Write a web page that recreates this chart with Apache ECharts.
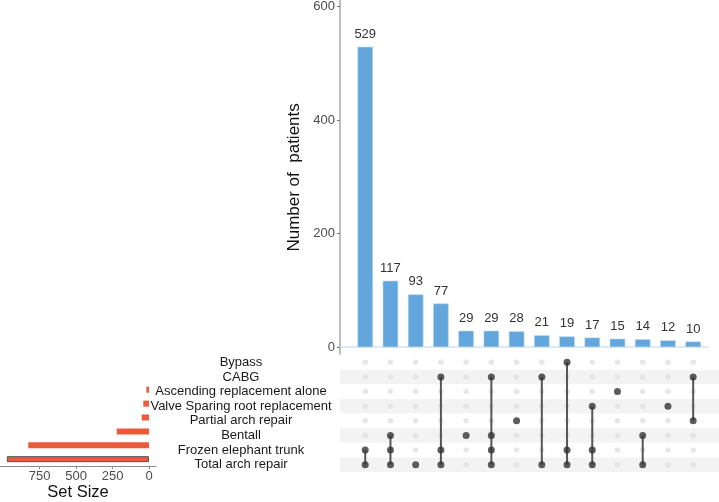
<!DOCTYPE html>
<html><head><meta charset="utf-8">
<script src="https://cdn.jsdelivr.net/npm/echarts@6/dist/echarts.min.js"></script>
<style>html,body{margin:0;padding:0;background:#fff}#c{width:719px;height:502px}</style>
</head><body><div id="c"></div>
<script>
const setNames = ['Bypass','CABG','Ascending replacement alone','Valve Sparing root replacement','Partial arch repair','Bentall','Frozen elephant trunk','Total arch repair'];
const setSizes = [0,0,18,39,50,221,828,975];
const highlightedSet = 'Total arch repair';
const intersectionCounts = [529,117,93,77,29,29,28,21,19,17,15,14,12,10];
const intersectionSets = [
 ['Frozen elephant trunk','Total arch repair'],
 ['Bentall','Frozen elephant trunk','Total arch repair'],
 ['Total arch repair'],
 ['CABG','Frozen elephant trunk','Total arch repair'],
 ['Bentall'],
 ['CABG','Bentall','Frozen elephant trunk','Total arch repair'],
 ['Partial arch repair'],
 ['CABG','Total arch repair'],
 ['Bypass','Frozen elephant trunk','Total arch repair'],
 ['Valve Sparing root replacement','Frozen elephant trunk','Total arch repair'],
 ['Ascending replacement alone'],
 ['Bentall','Total arch repair'],
 ['Valve Sparing root replacement'],
 ['CABG','Partial arch repair']
];
const countTicks = [0,200,400,600];
const sizeTicks = [0,250,500,750];

const FONT = 'Liberation Sans, Arial, sans-serif';
const chart = echarts.init(document.getElementById('c'), null, {renderer:'canvas'});

const barData = intersectionCounts.map((v,i)=>[i+1, v]);
const greyDots = [], darkDots = [];
intersectionSets.forEach((sets,i)=>{
  setNames.forEach(n=>{
    if (sets.indexOf(n) >= 0) darkDots.push([i+1, n]); else greyDots.push([i+1, n]);
  });
});
const lineSeries = [];
intersectionSets.forEach((sets,i)=>{
  if (sets.length < 2) return;
  const idx = sets.map(s=>setNames.indexOf(s));
  const a = setNames[Math.min(...idx)], b = setNames[Math.max(...idx)];
  lineSeries.push({
    type:'line', xAxisIndex:1, yAxisIndex:1, data:[[i+1,a],[i+1,b]],
    symbol:'none', lineStyle:{color:'#555', width:2}, z:3, silent:true
  });
});

const option = {
  animation:false,
  textStyle:{fontFamily:FONT},
  grid:[
    {left:340, top:0, width:368.3, height:354},
    {left:340, top:355, width:379, height:117},
    {left:0, top:355, width:156, height:117}
  ],
  xAxis:[
    {type:'value', gridIndex:0, min:0, max:14.6,
     axisLine:{show:true, onZero:true, lineStyle:{color:'#d3e2ef', width:1.5}},
     axisTick:{show:false}, axisLabel:{show:false}, splitLine:{show:false}},
    {type:'value', gridIndex:1, min:0, max:379/25.226, show:false, splitLine:{show:false}},
    {type:'value', gridIndex:2, inverse:true, min:-48, max:1022,
     axisLine:{show:true, onZero:false, lineStyle:{color:'#8a8a8a', width:1.2}},
     axisTick:{show:true, length:3, customValues:sizeTicks, lineStyle:{color:'#8a8a8a'}},
     axisLabel:{show:true, customValues:sizeTicks, margin:4, fontSize:13, color:'#4d4d4d', fontFamily:FONT},
     splitLine:{show:false},
     name:'Set Size', nameLocation:'middle', nameGap:17,
     nameTextStyle:{fontSize:16.5, color:'#111', fontFamily:FONT}}
  ],
  yAxis:[
    {type:'value', gridIndex:0, min:-12, max:610,
     axisLine:{show:true, lineStyle:{color:'#a8a8a8', width:1.5}},
     axisTick:{show:true, length:3, customValues:countTicks, lineStyle:{color:'#777'}},
     axisLabel:{customValues:countTicks, margin:5, fontSize:13, color:'#4d4d4d', fontFamily:FONT},
     splitLine:{show:false},
     name:'Number of  patients', nameLocation:'middle', nameGap:36,
     nameTextStyle:{fontSize:17, color:'#111', fontFamily:FONT}},
    {type:'category', gridIndex:1, data:setNames, inverse:true,
     axisLine:{show:false}, axisTick:{show:false, interval:0},
     axisLabel:{show:true, interval:0, margin:99, align:'center', fontSize:13, color:'#1a1a1a', fontFamily:FONT},
     splitArea:{show:true, interval:0, areaStyle:{color:['#ffffff','#f3f3f3']}}},
    {type:'category', gridIndex:2, data:setNames, inverse:true, show:false}
  ],
  series:[
    {type:'bar', xAxisIndex:0, yAxisIndex:0, data:barData, barWidth:15.5,
     itemStyle:{color:'#62a6dc', borderColor:'#b9d6ef', borderWidth:0.6},
     label:{show:true, position:'top', distance:6, fontSize:13, color:'#333', fontFamily:FONT}},
    {type:'scatter', xAxisIndex:1, yAxisIndex:1, data:greyDots, symbolSize:5.5,
     itemStyle:{color:'#e1e1e1'}, z:2, silent:true},
    ...lineSeries,
    {type:'scatter', xAxisIndex:1, yAxisIndex:1, data:darkDots, symbolSize:7,
     itemStyle:{color:'#333'}, z:4, silent:true},
    {type:'bar', xAxisIndex:2, yAxisIndex:2, barWidth:6,
     data:setSizes.map((v,i)=> setNames[i]===highlightedSet
        ? {value:v, itemStyle:{color:'#ec5a3c', borderColor:'#555', borderWidth:1}}
        : v),
     itemStyle:{color:'#ec5a3c'}}
  ]
};
chart.setOption(option);
</script>
</body></html>
